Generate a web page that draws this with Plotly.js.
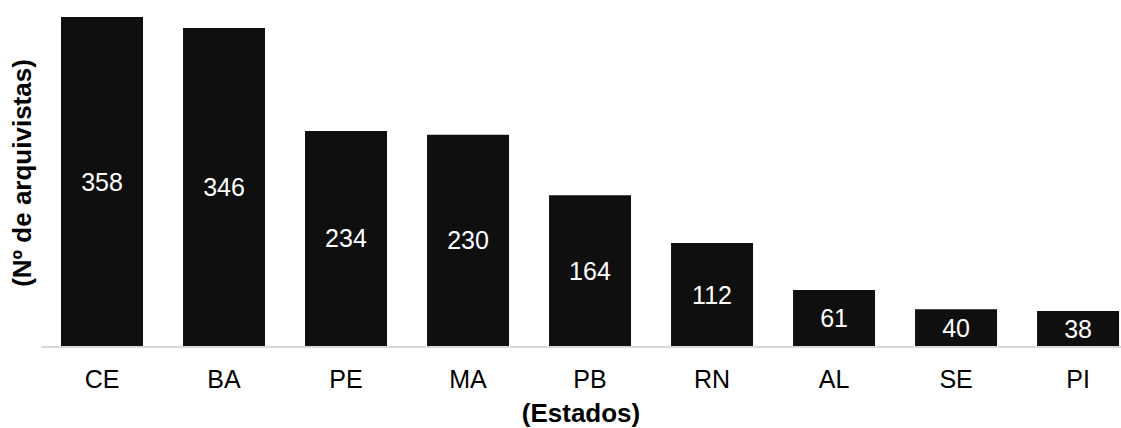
<!DOCTYPE html>
<html>
<head>
<meta charset="utf-8">
<script src="https://cdn.plot.ly/plotly-3.0.1.min.js"></script>
<style>html,body{margin:0;padding:0;background:#fff;}#chart{width:1121px;height:428px;}</style>
</head>
<body>
<div id="chart"></div>
<script>
var estados = ["CE", "BA", "PE", "MA", "PB", "RN", "AL", "SE", "PI"];
var arquivistas = [358, 346, 234, 230, 164, 112, 61, 40, 38];
var xTitle = "(Estados)";
var yTitle = "(Nº de arquivistas)";

var trace = {
  type: "bar",
  x: estados,
  y: arquivistas,
  text: arquivistas.map(String),
  textposition: "inside",
  insidetextanchor: "middle",
  textfont: {family: "Liberation Sans, Arial, sans-serif", size: 25, color: "#ffffff"},
  marker: {color: "#0f0f0f", line: {width: 0}},
  width: 0.672,
  hoverinfo: "x+y"
};

var layout = {
  width: 1121,
  height: 428,
  margin: {l: 41, r: 0, t: 0, b: 82},
  paper_bgcolor: "#ffffff",
  plot_bgcolor: "#ffffff",
  showlegend: false,
  font: {family: "Liberation Sans, Arial, sans-serif", color: "#000000"},
  xaxis: {
    type: "category",
    range: [-0.5, 8.352],
    showline: true,
    linecolor: "#d9d9d9",
    linewidth: 1.5,
    showgrid: false,
    zeroline: false,
    ticks: "",
    ticklabelstandoff: 10,
    tickfont: {size: 25, color: "#000000"},
    title: {text: xTitle, font: {size: 26, color: "#000000", weight: "bold"}, standoff: 14},
    automargin: false
  },
  yaxis: {
    range: [0, 376.5],
    showline: false,
    showgrid: false,
    zeroline: false,
    showticklabels: false,
    ticks: "",
    title: {text: yTitle, font: {size: 26, color: "#000000", weight: "bold"}, standoff: 0},
    automargin: false
  }
};

Plotly.newPlot("chart", [trace], layout, {displayModeBar: false, staticPlot: true});
</script>
</body>
</html>
